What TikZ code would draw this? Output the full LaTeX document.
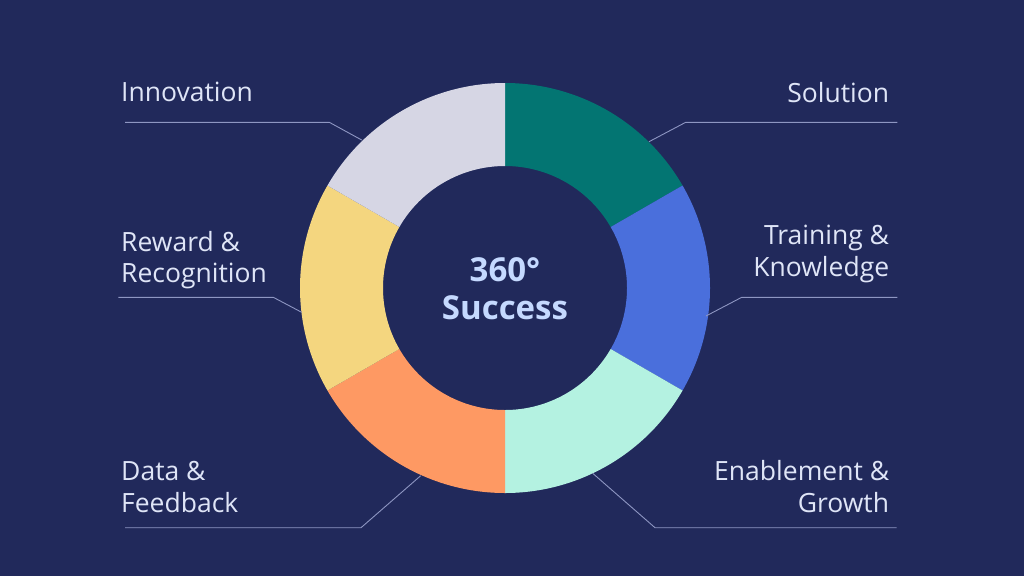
\documentclass[tikz,border=0pt]{standalone}
\usepackage{fontspec}
\setmainfont{Open Sans}
\definecolor{bgnavy}{HTML}{21295B}
\definecolor{segteal}{HTML}{037572}
\definecolor{segblue}{HTML}{4A6FDC}
\definecolor{segmint}{HTML}{B4F2E1}
\definecolor{segorange}{HTML}{FE9963}
\definecolor{segyellow}{HTML}{F4D67F}
\definecolor{seggray}{HTML}{D6D6E4}
\definecolor{labeltxt}{HTML}{DFE5F7}
\definecolor{centertxt}{HTML}{C5D9FF}
\definecolor{leader}{HTML}{8E96C2}
\newcommand{\seg}[3]{\fill[#1] (505,288) ++(#2:205) arc[start angle=#2, end angle=#3, radius=205] -- ($(505,288)+(#3:122)$) arc[start angle=#3, end angle=#2, radius=122] -- cycle;}
\usetikzlibrary{calc}
\tikzset{
  lbl/.style={text=labeltxt, font=\fontsize{26.5}{31.5}\selectfont, inner sep=0pt},
  lblL/.style={lbl, anchor=base west, align=left},
  lblR/.style={lbl, anchor=base east, align=right},
  leaderline/.style={draw=leader, line width=0.9pt},
}
\begin{document}
\begin{tikzpicture}[x=1pt,y=-1pt]
\fill[bgnavy] (0,0) rectangle (1024,576);
\useasboundingbox (0,0) rectangle (1024,576);
% donut segments (angles negated because y axis points down)
\seg{segteal}{-90}{-30}
\seg{segblue}{-30}{30}
\seg{segmint}{30}{90}
\seg{segorange}{90}{150}
\seg{segyellow}{150}{210}
\seg{seggray}{210}{270}
% multi-line nodes: base anchor = baseline of last line
\node[text=centertxt, font=\bfseries\fontsize{33}{38}\selectfont, align=center, inner sep=0pt, anchor=base] (center) at (505,319) {360°\\Success};
% labels
\node[lblL] (inno) at (121,101.7) {Innovation};
\node[lblR] (sol) at (889.3,102) {Solution};
\node[lblL] (rew) at (121,282.7) {Reward \&\\Recognition};
\node[lblR] (train) at (889.3,276) {Training \&\\Knowledge};
\node[lblL] (data) at (121,512.3) {Data \&\\Feedback};
\node[lblR] (enab) at (889.3,512.3) {Enablement \&\\Growth};
% leader coordinates
\coordinate (innoA) at (125,122.3);   \coordinate (innoB) at (329.3,122.3); \coordinate (innoP) at (361.7,140);
\coordinate (solA) at (897.3,122.3);  \coordinate (solB) at (685.7,122.3);  \coordinate (solP) at (649,141.7);
\coordinate (rewA) at (118.3,297.3);  \coordinate (rewB) at (273.3,297.3);  \coordinate (rewP) at (301.7,312.3);
\coordinate (trainA) at (897.3,297.3);\coordinate (trainB) at (741.7,297.3);\coordinate (trainP) at (706,316);
\coordinate (dataA) at (125,527.7);   \coordinate (dataB) at (361,527.7);   \coordinate (dataP) at (420.7,475.7);
\coordinate (enabA) at (896.7,527.7); \coordinate (enabB) at (655,527.7);   \coordinate (enabP) at (592.7,473.3);
\draw[leaderline] (innoA) -- (innoB) -- (innoP);
\draw[leaderline] (solA) -- (solB) -- (solP);
\draw[leaderline] (rewA) -- (rewB) -- (rewP);
\draw[leaderline] (trainA) -- (trainB) -- (trainP);
\draw[leaderline] (dataA) -- (dataB) -- (dataP);
\draw[leaderline] (enabA) -- (enabB) -- (enabP);
\end{tikzpicture}
\end{document}
